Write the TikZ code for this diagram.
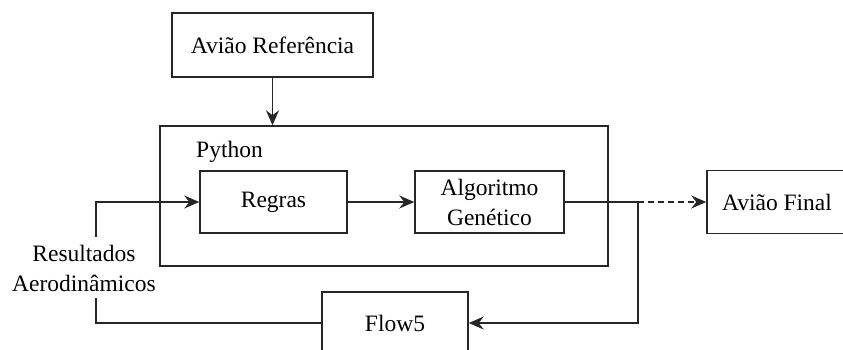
\documentclass[tikz,border=0pt]{standalone}
\usepackage{fontspec}
\setmainfont{Liberation Serif}
\usetikzlibrary{arrows.meta}
\begin{document}
\begin{tikzpicture}[x=1pt,y=-1pt,
  box/.style={draw=black!85, line width=1.5pt, inner sep=0pt, align=center, font=\fontsize{23.5}{30}\selectfont},
  conn/.style={draw=black!85, line width=1.5pt},
  arr/.style={conn, -{Stealth[length=15pt,width=13pt,inset=5pt]}},
  lbl/.style={inner sep=0pt, align=center, font=\fontsize{23.5}{30}\selectfont}]
\useasboundingbox (0,0) rectangle (843,349);
\node[box, minimum width=201pt, minimum height=64pt] (avref) at (272.5,45) {Avião Referência};
\node[box, minimum width=448pt, minimum height=140pt] (python) at (384,196) {};
\node[lbl, anchor=west] (pylabel) at (196,152) {Python};
\node[box, minimum width=147pt, minimum height=62pt] (regras) at (273.5,202) {Regras};
\node[box, minimum width=149pt, minimum height=62pt] (alg) at (489.5,202) {Algoritmo\\Genético};
\node[box, minimum width=140pt, minimum height=63pt] (avfinal) at (777,202) {Avião Final};
\node[box, minimum width=146pt, minimum height=62pt] (flow5) at (395,323) {Flow5};
\node[lbl] (res) at (84,268) {Resultados\\Aerodinâmicos};
\coordinate (j) at (638,202);
\coordinate (fb1) at (96,298);
\coordinate (fb2) at (96,237);
\draw[arr] (avref.south) -- (avref.south |- python.north);
\draw[arr] (regras.east) -- (alg.west);
\draw[conn] (alg.east) -- (j);
\draw[arr, dash pattern=on 6pt off 4pt] (j) -- (avfinal.west);
\draw[arr] (j) |- (flow5.east);
\draw[conn] (flow5.west) -| (fb1);
\draw[arr] (fb2) |- (regras.west);
\end{tikzpicture}
\end{document}
